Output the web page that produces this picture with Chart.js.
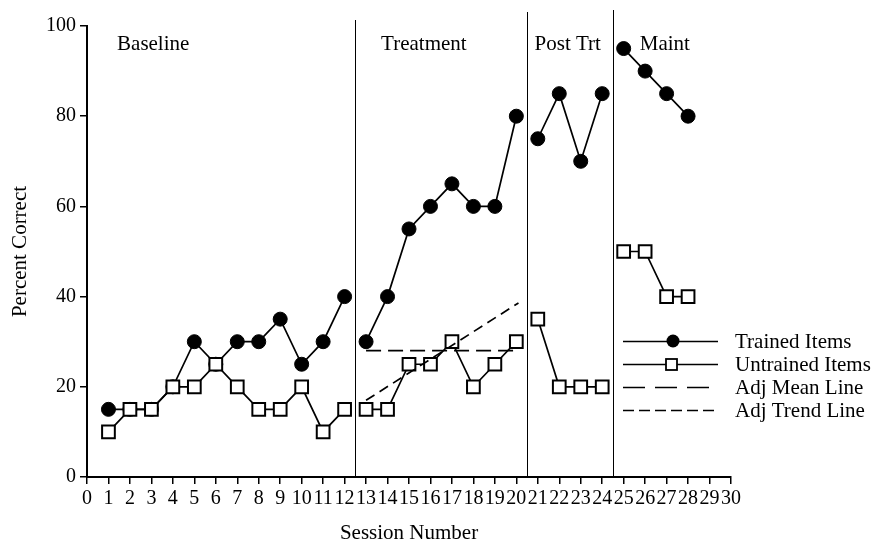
<!DOCTYPE html>
<html>
<head>
<meta charset="utf-8">
<script src="https://cdn.jsdelivr.net/npm/chart.js@4"></script>
<style>
  html, body { margin: 0; padding: 0; background: #fff; }
  #wrap { width: 876px; height: 546px; }
</style>
</head>
<body>
<div id="wrap"><canvas id="chart"></canvas></div>
<script>
// ---------- DATA ----------
const sessions  = [1, 2, 3, 4, 5, 6, 7, 8, 9, 10, 11, 12, 13, 14, 15, 16, 17, 18, 19, 20, 21, 22, 23, 24, 25, 26, 27, 28];
const trained   = [15, 15, 15, 20, 30, 25, 30, 30, 35, 25, 30, 40, 30, 40, 55, 60, 65, 60, 60, 80, 75, 85, 70, 85, 95, 90, 85, 80];
const untrained = [10, 15, 15, 20, 20, 25, 20, 15, 15, 20, 10, 15, 15, 15, 25, 25, 30, 20, 25, 30, 35, 20, 20, 20, 50, 50, 40, 40];
const phaseNames = ["Baseline", "Treatment", "Post Trt", "Maint"];
const phaseLast  = [12, 20, 24, 28];   // last session of each phase
const meanSessions  = [13, 20.1];
const meanValues    = [28, 28];
const trendSessions = [13, 20.1];
const trendValues   = [17, 38.6];
const xTicks = [0, 1, 2, 3, 4, 5, 6, 7, 8, 9, 10, 11, 12, 13, 14, 15, 16, 17, 18, 19, 20, 21, 22, 23, 24, 25, 26, 27, 28, 29, 30];

const FONT = "'Liberation Serif', 'Times New Roman', serif";

// split a series into one piece per phase so lines break at phase changes
function phasePieces(values) {
  let pieces = [];
  let start = 0;
  phaseLast.forEach(last => {
    let pts = [];
    sessions.forEach((s, i) => {
      if (s > start && s <= last) pts.push({ x: s, y: values[i] });
    });
    pieces.push(pts);
    start = last;
  });
  return pieces;
}

let datasets = [];
phasePieces(trained).forEach(pts => {
  datasets.push({
    label: "Trained Items", data: pts, order: 3,
    borderColor: "#000", borderWidth: 1.7,
    pointStyle: "circle", pointRadius: 7,
    pointBackgroundColor: "#000", pointBorderColor: "#000", pointBorderWidth: 1
  });
});
phasePieces(untrained).forEach(pts => {
  datasets.push({
    label: "Untrained Items", data: pts, order: 2,
    borderColor: "#000", borderWidth: 1.7,
    pointStyle: "rect", pointRadius: 9,
    pointBackgroundColor: "#fff", pointBorderColor: "#000", pointBorderWidth: 2
  });
});
datasets.push({
  label: "Adj Mean Line", order: 1,
  data: meanSessions.map((s, i) => ({ x: s, y: meanValues[i] })),
  borderColor: "#000", borderWidth: 1.7, borderDash: [15, 7], pointRadius: 0
});
datasets.push({
  label: "Adj Trend Line", order: 1,
  data: trendSessions.map((s, i) => ({ x: s, y: trendValues[i] })),
  borderColor: "#000", borderWidth: 1.7, borderDash: [10, 6], pointRadius: 0
});

// ---------- PHASE LINES, LABELS, LEGEND ----------
const phasePlugin = {
  id: "phases",
  afterDatasetsDraw(chart) {
    const { ctx, chartArea, scales } = chart;
    const x = scales.x, y = scales.y;
    ctx.save();
    ctx.strokeStyle = "#000";
    ctx.fillStyle = "#000";
    ctx.lineWidth = 1;
    let lineTops = [6, 14, 16];
    phaseLast.slice(0, 3).forEach((last, i) => {
      let px = Math.round(x.getPixelForValue(last + 0.5)) + 0.5;
      ctx.beginPath();
      ctx.moveTo(px, chartArea.top - lineTops[i]);
      ctx.lineTo(px, chartArea.bottom);
      ctx.stroke();
    });
    ctx.font = "21px " + FONT;
    ctx.textBaseline = "middle";
    ctx.textAlign = "left";
    let starts = [1.4, 13.7, 20.85, 25.75];
    phaseNames.forEach((name, i) => {
      ctx.fillText(name, x.getPixelForValue(starts[i]), y.getPixelForValue(95.8));
    });

    // legend
    const rows = ["Trained Items", "Untrained Items", "Adj Mean Line", "Adj Trend Line"];
    const lx0 = 623, lx1 = 718, tx = 735;
    rows.forEach((label, i) => {
      let ly = 341 + i * 23;
      ctx.setLineDash(i === 2 ? [22, 10] : i === 3 ? [11, 5] : []);
      ctx.lineWidth = 1.7;
      ctx.beginPath();
      ctx.moveTo(lx0, ly + 0.5);
      ctx.lineTo(i === 2 ? 712 : lx1, ly + 0.5);
      ctx.stroke();
      ctx.setLineDash([]);
      if (i === 0) {
        ctx.beginPath();
        ctx.arc(673, ly, 6.5, 0, Math.PI * 2);
        ctx.fill();
      } else if (i === 1) {
        ctx.fillStyle = "#fff";
        ctx.fillRect(666, ly - 5, 11, 11);
        ctx.lineWidth = 1.8;
        ctx.strokeRect(666, ly - 5, 11, 11);
        ctx.fillStyle = "#000";
      }
      ctx.fillText(label, tx, ly + 1);
    });
    ctx.restore();
  }
};

new Chart(document.getElementById("chart"), {
  type: "line",
  data: { datasets: datasets },
  options: {
    responsive: true,
    maintainAspectRatio: false,
    animation: false,
    layout: { padding: { top: 26, right: 145, left: 4, bottom: 0 } },
    plugins: { legend: { display: false }, tooltip: { enabled: false } },
    scales: {
      x: {
        type: "linear", min: 0, max: 30,
        afterBuildTicks: axis => { axis.ticks = xTicks.map(v => ({ value: v })); },
        afterFit: axis => { axis.height = 69; },
        ticks: {
          autoSkip: false, maxRotation: 0, minRotation: 0,
          color: "#000", padding: 3,
          font: { family: FONT, size: 20 }
        },
        grid: { drawOnChartArea: false, drawTicks: true, tickLength: 7, color: "#000", lineWidth: 1.5 },
        border: { color: "#000", width: 2 },
        title: { display: true, text: "Session Number", color: "#000", font: { family: FONT, size: 21 }, padding: { top: 4, bottom: 0 } }
      },
      y: {
        min: 0, max: 100,
        afterFit: axis => { axis.width = 83; },
        ticks: { stepSize: 20, color: "#000", padding: 4, font: { family: FONT, size: 20 } },
        grid: { drawOnChartArea: false, drawTicks: true, tickLength: 7, color: "#000", lineWidth: 1.5 },
        border: { color: "#000", width: 2 },
        title: { display: true, text: "Percent Correct", color: "#000", font: { family: FONT, size: 21 }, padding: { top: 4, bottom: 4 } }
      }
    }
  },
  plugins: [phasePlugin]
});
</script>
</body>
</html>
